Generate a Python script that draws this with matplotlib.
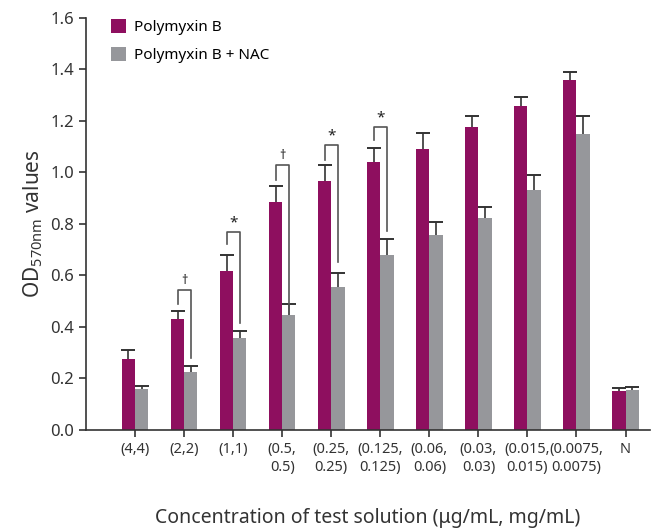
import matplotlib.pyplot as plt
import numpy as np

plt.rcParams['font.family'] = ['Noto Sans', 'DejaVu Sans']

# data
labels = ['(4,4)', '(2,2)', '(1,1)', '(0.5,\n0.5)', '(0.25,\n0.25)', '(0.125,\n0.125)',
          '(0.06,\n0.06)', '(0.03,\n0.03)', '(0.015,\n0.015)', '(0.0075,\n0.0075)', 'N']
pmb = [0.276, 0.43, 0.617, 0.885, 0.967, 1.04, 1.09, 1.177, 1.258, 1.359, 0.151]
pmb_err = [0.034, 0.03, 0.063, 0.063, 0.063, 0.055, 0.063, 0.043, 0.035, 0.031, 0.012]
nac = [0.16, 0.225, 0.357, 0.447, 0.555, 0.68, 0.757, 0.823, 0.932, 1.15, 0.155]
nac_err = [0.01, 0.023, 0.028, 0.043, 0.055, 0.06, 0.051, 0.043, 0.058, 0.07, 0.012]

# significance brackets: (group index, top, left leg bottom, right leg bottom, symbol)
sig_idx = [1, 2, 3, 4, 5]
sig_top = [0.544, 0.77, 1.03, 1.107, 1.177]
sig_left = [0.49, 0.72, 0.97, 1.05, 1.126]
sig_right = [0.28, 0.415, 0.49, 0.65, 0.773]
sig_mark = ['\u2020', '*', '\u2020', '*', '*']

purple = '#8E0F5F'
grey = '#96979B'

fig = plt.figure(figsize=(6.52, 5.28), dpi=100)
ax = fig.add_axes([0.132, 0.186, 0.865, 0.78])

x = np.arange(len(labels))
w = 0.27
ax.bar(x - w / 2, pmb, w, color=purple, label='Polymyxin B', zorder=3)
ax.bar(x + w / 2, nac, w, color=grey, label='Polymyxin B + NAC', zorder=3)

# upper-only error bars with a cap at the top
for xs, vals, errs in [(x - w / 2, pmb, pmb_err), (x + w / 2, nac, nac_err)]:
    ax.errorbar(xs, vals, yerr=[np.zeros(len(vals)), errs], fmt='none',
                ecolor='#333333', elinewidth=1.2, capsize=0, zorder=2)
    ax.plot(xs, np.array(vals) + np.array(errs), ls='none', marker='_', ms=9.5,
            mew=1.4, color='#333333', zorder=2)

for i, t, l, r, m in zip(sig_idx, sig_top, sig_left, sig_right, sig_mark):
    ax.plot([i - w / 2, i - w / 2, i + w / 2, i + w / 2], [l, t, t, r],
            color='#555555', lw=1.2, zorder=4)
    ax.text(i, t + 0.035, m, ha='center', va='center', fontsize=11 if m == '*' else 9,
            fontweight='bold', color='#222222')

ax.set_xlim(-1, 10.5)
ax.set_ylim(0, 1.6)
ax.set_yticks(np.arange(0, 1.61, 0.2))
ax.set_yticklabels(['%.1f' % v for v in np.arange(0, 1.61, 0.2)])
ax.set_xticks(x)
ax.set_xticklabels(labels, fontsize=10.5, linespacing=1.3, color='#333333')
ax.tick_params(axis='y', labelsize=12, length=5, width=1.2, color='#333333',
               labelcolor='#333333')
ax.tick_params(axis='x', length=5, width=1.2, color='#333333')
for s in ['top', 'right']:
    ax.spines[s].set_visible(False)
for s in ['left', 'bottom']:
    ax.spines[s].set_color('#333333')
    ax.spines[s].set_linewidth(1.2)
    ax.spines[s].set_zorder(5)

ax.set_ylabel('OD$_{\\mathregular{570nm}}$ values', fontsize=15, color='#333333')
ax.set_xlabel('Concentration of test solution (\u03bcg/mL, mg/mL)', fontsize=14,
              labelpad=24, color='#333333')
ax.legend(loc='upper left', bbox_to_anchor=(0.02, 1.03), frameon=False, fontsize=11,
          handlelength=1, handleheight=1, handletextpad=0.5, labelspacing=0.75)

plt.savefig('out.png', dpi=100)
